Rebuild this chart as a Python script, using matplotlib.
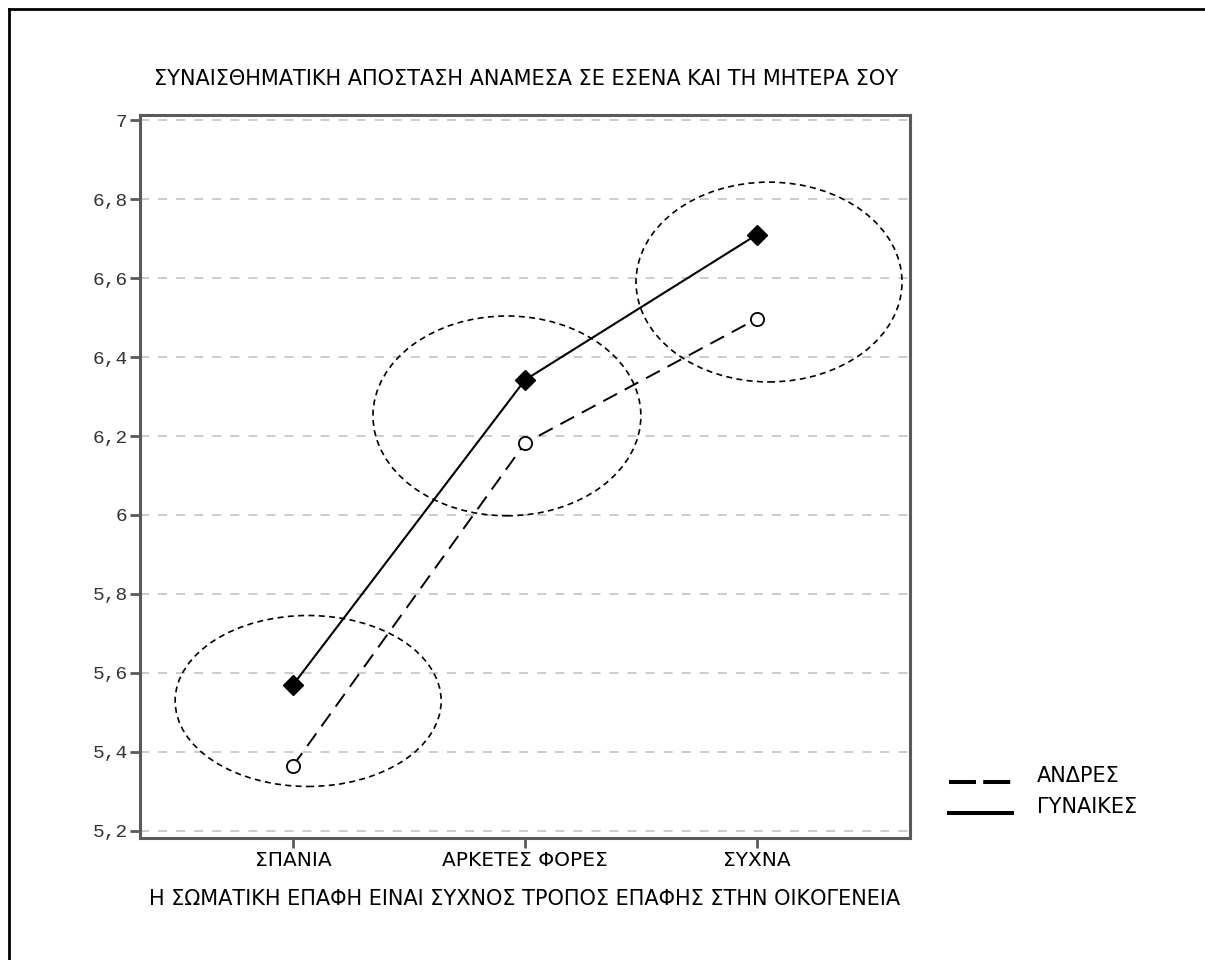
"""Γράφημα γραμμών: συναισθηματική απόσταση από τη μητέρα ανά συχνότητα σωματικής επαφής."""

import matplotlib

matplotlib.use("Agg")
import matplotlib.pyplot as plt  # noqa: E402
from matplotlib.lines import Line2D  # noqa: E402
from matplotlib.patches import Ellipse  # noqa: E402

categories = ["ΣΠΑΝΙΑ", "ΑΡΚΕΤΕΣ ΦΟΡΕΣ", "ΣΥΧΝΑ"]
men = [5.365, 6.182, 6.497]
women = [5.57, 6.342, 6.71]
y_ticks = [5.2, 5.4, 5.6, 5.8, 6.0, 6.2, 6.4, 6.6, 6.8, 7.0]
y_tick_labels = ["5,2", "5,4", "5,6", "5,8", "6", "6,2", "6,4", "6,6", "6,8", "7"]
series_labels = ["ΑΝΔΡΕΣ", "ΓΥΝΑΙΚΕΣ"]

title = "ΣΥΝΑΙΣΘΗΜΑΤΙΚΗ ΑΠΟΣΤΑΣΗ ΑΝΑΜΕΣΑ ΣΕ ΕΣΕΝΑ ΚΑΙ ΤΗ ΜΗΤΕΡΑ ΣΟΥ"
xlabel = "Η ΣΩΜΑΤΙΚΗ ΕΠΑΦΗ ΕΙΝΑΙ ΣΥΧΝΟΣ ΤΡΟΠΟΣ ΕΠΑΦΗΣ ΣΤΗΝ ΟΙΚΟΓΕΝΕΙΑ"

W, H = 1205, 960
SPINE = "#5a5a5a"
FS = 14.5


def main() -> None:
    plt.rcParams["font.family"] = ["DejaVu Sans"]
    fig = plt.figure(figsize=(W / 100, H / 100), dpi=100)
    ax = fig.add_axes([140 / W, 1 - 838 / H, 770 / W, 723 / H])

    x = list(range(len(categories)))
    ax.plot(x, men, color="black", lw=1.4, ls=(0, (8, 4.5)), marker="o",
            ms=9.5, mfc="white", mec="black", mew=1.3, zorder=3)
    ax.plot(x, women, color="black", lw=1.5, marker="D",
            ms=10.5, mfc="black", mec="black", zorder=4)

    # elipses que resaltan cada grupo
    for cx, cy, w, h in [(0.065, 5.529, 1.147, 0.433),
                         (0.922, 6.251, 1.155, 0.506),
                         (2.052, 6.59, 1.147, 0.506)]:
        ax.add_patch(Ellipse((cx, cy), w, h, fill=False, ec="black",
                             lw=1.2, ls=(0, (3.6, 2.6)), zorder=2))

    ax.set_xlim(-0.66, 2.66)
    ax.set_ylim(5.182, 7.013)
    ax.set_xticks(x)
    ax.set_xticklabels(categories, fontsize=FS)
    ax.set_yticks(y_ticks)
    ax.set_yticklabels(y_tick_labels, family="Liberation Mono", fontsize=14,
                       color="#333333")
    ax.yaxis.grid(True, color="#c8c8c8", ls=(0, (5, 5)), lw=1.3)
    ax.set_axisbelow(True)
    ax.tick_params(direction="out", length=7, width=2, color=SPINE, pad=2)
    for s in ax.spines.values():
        s.set_color(SPINE)
        s.set_linewidth(2.2)

    ax.set_xlabel(xlabel, fontsize=15, labelpad=14)
    fig.text(526 / W, 1 - 79 / H, title, fontsize=15, ha="center", va="center")

    # leyenda dibujada a mano (texto algo por encima de la línea)
    styles = [dict(ls=(0, (6.7, 1.8))), dict(ls="-")]
    for i, (label, st) in enumerate(zip(series_labels, styles)):
        yl = 1 - (782 + 31 * i) / H
        fig.add_artist(Line2D([949 / W, 1012 / W], [yl, yl], color="black",
                              lw=2.9, **st))
        fig.text(1037 / W, yl + 6 / H, label, fontsize=15, va="center")

    # marco exterior (solo borde superior e izquierdo visibles)
    fig.add_artist(Line2D([8.5 / W, 1], [1 - 8.5 / H, 1 - 8.5 / H],
                          color="black", lw=2))
    fig.add_artist(Line2D([8.5 / W, 8.5 / W], [0, 1 - 8.5 / H],
                          color="black", lw=2))

    fig.savefig("out.png", dpi=100)


if __name__ == "__main__":
    main()
